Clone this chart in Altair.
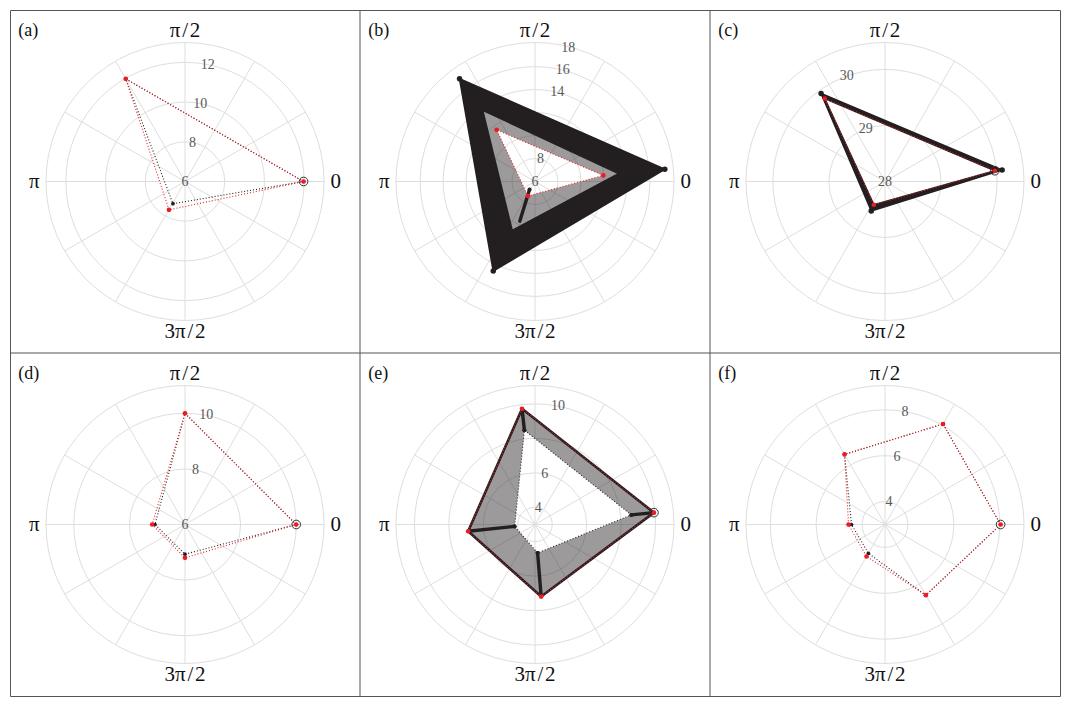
import math
import altair as alt
import pandas as pd

# ---------------- layout / style ----------------
W, H, RPX = 350, 343, 139          # one panel cell (px) and outer-circle radius (px)
NCOL, NROW = 3, 2
LABEL_R = 1.085                    # angular labels, in units of the outer radius
PANEL_LX, PANEL_LY = -1.2, 1.085   # panel letter, in units of the outer radius
GRID = "#dedede"
RED = "#ec1c24"
INK = "#231f20"
TICK = "#595959"
FRAME = "#555555"
SERIF = "Liberation Serif"

# ---------------- data ----------------
PANEL_LABELS = ["(a)", "(b)", "(c)", "(d)", "(e)", "(f)"]
R_CENTER = [6, 6, 28, 6, 3, 3]
R_OUTER = [13.0, 18.1, 30.48, 11.0, 11.07, 9.06]
RINGS = [[8, 10, 12], [8, 10, 12, 14, 16], [29, 30], [8, 10], [4, 6, 8, 10], [4, 6, 8]]
TICKS = [[6, 8, 10, 12], [6, 8, 14, 16, 18], [28, 29, 30], [6, 8, 10], [4, 6, 10], [4, 6, 8]]
TICK_ANGLE = [79, 76, 110, 79, 79, 80]
SPOKE_ANGLES = [0, 30, 60, 90, 120, 150, 180, 210, 240, 270, 300, 330]
DIR_ANGLES = [0, 90, 180, 270]
DIR_TEXT = ["0", "\u03c0\u200a/\u200a2", "\u03c0", "3\u03c0\u200a/\u200a2"]

# (a)
A_RED_R = [11.97, 11.97, 7.64]
A_RED_T = [0, 120, 240.6]
A_BLK_R = [11.97, 11.97, 7.27]
A_BLK_T = [0, 120, 241.4]
# (b)
B_RED_R = [11.97, 11.6, 7.4]
B_RED_T = [5.1, 126.6, 244]
B_MID_R = [13.3, 13.7, 10.7]
B_MID_T = [5.4, 126.3, 245]
B_BLK_R = [17.35, 17.1, 14.6]
B_BLK_T = [5.4, 126.3, 245]
B_TRAIL_R0 = [6.85]
B_TRAIL_T0 = [236]
B_TRAIL_R1 = [9.7]
B_TRAIL_T1 = [249]
# (c)
C_RED_R = [29.97, 29.83, 28.46]
C_RED_T = [5.6, 126, 244.4]
C_BLK_R = [30.1, 29.94, 28.58]
C_BLK_T = [5.6, 126, 245]
# (d)
D_RED_R = [10.0, 10.0, 7.18, 7.2]
D_RED_T = [0, 90, 180, 270]
D_BLK_R = [10.0, 10.0, 7.08, 7.07]
D_BLK_T = [0, 90, 180, 270]
# (e)
E_RED_R = [9.94, 9.76, 6.9, 7.2]
E_RED_T = [5.7, 96.4, 185.8, 274.9]
E_BLK_R = [8.62, 8.51, 4.19, 4.66]
E_BLK_T = [5.7, 96.4, 185.4, 275.2]
# (f)
F_RED_R = [8.04, 8.06, 6.53, 4.59, 4.61, 6.56]
F_RED_T = [0, 60, 120, 180, 240, 300]
F_BLK_R = [8.04, 8.06, 6.53, 4.46, 4.45, 6.56]
F_BLK_T = [0, 60, 120, 180, 240, 300]

PANELS = [
    dict(red=(A_RED_R, A_RED_T), black=(A_BLK_R, A_BLK_T), black_line=True, bands=[],
         trails=None, marker=True, bsize=14, outline=False),
    dict(red=(B_RED_R, B_RED_T), black=(B_BLK_R, B_BLK_T), black_line=False,
         bands=[((B_RED_R, B_RED_T), (B_MID_R, B_MID_T), 0.45),
                ((B_MID_R, B_MID_T), (B_BLK_R, B_BLK_T), 1.0)],
         trails=(B_TRAIL_R0, B_TRAIL_T0, B_TRAIL_R1, B_TRAIL_T1), marker=False, bsize=30,
         outline=False),
    dict(red=(C_RED_R, C_RED_T), black=(C_BLK_R, C_BLK_T), black_line=False,
         bands=[((C_RED_R, C_RED_T), (C_BLK_R, C_BLK_T), 1.0)],
         trails=None, marker=True, bsize=30, outline=False),
    dict(red=(D_RED_R, D_RED_T), black=(D_BLK_R, D_BLK_T), black_line=True, bands=[],
         trails=None, marker=True, bsize=14, outline=False),
    dict(red=(E_RED_R, E_RED_T), black=(E_BLK_R, E_BLK_T), black_line=True,
         bands=[((E_BLK_R, E_BLK_T), (E_RED_R, E_RED_T), 0.45)],
         trails=(E_BLK_R, E_BLK_T, E_RED_R, E_RED_T), marker=True, bsize=14, outline=True),
    dict(red=(F_RED_R, F_RED_T), black=(F_BLK_R, F_BLK_T), black_line=True, bands=[],
         trails=None, marker=True, bsize=14, outline=False),
]

# ---------------- panel geometry (layout only) ----------------
def panel_geo(i):
    col, row = i % NCOL, i // NCOL
    ox = (col + 0.5) * W / RPX
    oy = (NROW - row - 0.5) * H / RPX
    return dict(p=i, r0=R_CENTER[i], span=R_OUTER[i] - R_CENTER[i], ox=ox, oy=oy)


GEO = [panel_geo(i) for i in range(len(PANELS))]

xs = alt.Scale(domain=[0, NCOL * W / RPX], nice=False, zero=False)
ys = alt.Scale(domain=[0, NROW * H / RPX], nice=False, zero=False)
X = alt.X("px:Q", scale=xs, axis=None)
Y = alt.Y("py:Q", scale=ys, axis=None)


def polar(ch, rf="r", tf="t", xn="px", yn="py"):
    return ch.transform_calculate(**{
        xn: f"datum.ox + (datum.{rf} - datum.r0) / datum.span * cos(datum.{tf} * PI / 180)",
        yn: f"datum.oy + (datum.{rf} - datum.r0) / datum.span * sin(datum.{tf} * PI / 180)",
    })


layers = []

# panel dividers
div_rows = []
for c in range(1, NCOL):
    div_rows.append(dict(px=c * W / RPX, py=0, qx=c * W / RPX, qy=NROW * H / RPX))
for r in range(1, NROW):
    div_rows.append(dict(px=0, py=r * H / RPX, qx=NCOL * W / RPX, qy=r * H / RPX))
layers.append(alt.Chart(pd.DataFrame(div_rows)).mark_rule(stroke=FRAME, strokeWidth=1)
              .encode(x=X, y=Y, x2="qx:Q", y2="qy:Q"))

# grid rings: circle symbols whose diameter follows the radial scale
ring_rows = []
for i, g in enumerate(GEO):
    for rv in RINGS[i] + [R_OUTER[i]]:
        ring_rows.append(dict(g, r=rv))
layers.append(
    alt.Chart(pd.DataFrame(ring_rows))
    .transform_calculate(u="(datum.r - datum.r0) / datum.span", px="datum.ox", py="datum.oy")
    .mark_point(shape="circle", filled=False, stroke=GRID, strokeWidth=1, opacity=1)
    .encode(x=X, y=Y,
            size=alt.Size("u:Q", legend=None,
                          scale=alt.Scale(type="pow", exponent=2, domain=[0, 1],
                                          range=[0, (2 * RPX) ** 2], zero=True, nice=False)))
)

# spokes
spoke_rows = [dict(g, a=a) for g in GEO for a in SPOKE_ANGLES]
layers.append(
    alt.Chart(pd.DataFrame(spoke_rows))
    .transform_calculate(px="datum.ox", py="datum.oy",
                         qx="datum.ox + cos(datum.a * PI / 180)",
                         qy="datum.oy + sin(datum.a * PI / 180)")
    .mark_rule(stroke=GRID, strokeWidth=1)
    .encode(x=X, y=Y, x2="qx:Q", y2="qy:Q")
)

# radial tick labels
tick_rows = [dict(g, v=v, t=TICK_ANGLE[i]) for i, g in enumerate(GEO) for v in TICKS[i]]
layers.append(
    polar(alt.Chart(pd.DataFrame(tick_rows)), rf="v")
    .mark_text(font=SERIF, fontSize=14, fill=TICK, baseline="middle", align="center")
    .encode(x=X, y=Y, text="v:N")
)

# angular labels
dir_rows = [dict(g, a=a, s=s) for g in GEO for a, s in zip(DIR_ANGLES, DIR_TEXT)]
layers.append(
    alt.Chart(pd.DataFrame(dir_rows))
    .transform_calculate(px=f"datum.ox + {LABEL_R} * cos(datum.a * PI / 180)",
                         py=f"datum.oy + {LABEL_R} * sin(datum.a * PI / 180)")
    .mark_text(font=SERIF, fontSize=21, fill="#111111", baseline="middle", align="center")
    .encode(x=X, y=Y, text="s:N")
)

# panel letters
lab_rows = [dict(g, s=PANEL_LABELS[i]) for i, g in enumerate(GEO)]
layers.append(
    alt.Chart(pd.DataFrame(lab_rows))
    .transform_calculate(px=f"datum.ox + ({PANEL_LX})", py=f"datum.oy + {PANEL_LY}")
    .mark_text(font=SERIF, fontSize=18, fill="#111111", align="left", baseline="middle")
    .encode(x=X, y=Y, text="s:N")
)


# bands swept by the many overlapping orbits (polygon with a hole)
def ring_xy(rs, ts, g, reverse=False):
    pts = [[g["ox"] + (r - g["r0"]) / g["span"] * math.cos(math.radians(t)),
            g["oy"] + (r - g["r0"]) / g["span"] * math.sin(math.radians(t))]
           for r, t in zip(rs, ts)]
    if reverse:
        pts = pts[::-1]
    return pts + [pts[0]]


solid_feats, soft_feats = [], []
for i, spec in enumerate(PANELS):
    for inner, outer, op in spec["bands"]:
        feat = {"type": "Feature", "properties": {"op": op},
                "geometry": {"type": "Polygon",
                             "coordinates": [ring_xy(outer[0], outer[1], GEO[i]),
                                             ring_xy(inner[0], inner[1], GEO[i], reverse=True)]}}
        (solid_feats if op >= 1 else soft_feats).append(feat)

proj = dict(type="identity", reflectY=True, scale=RPX, translate=[0, NROW * H])
if soft_feats:
    layers.append(alt.Chart(alt.Data(values=soft_feats))
                  .mark_geoshape(fill=INK, stroke=None, strokeWidth=0)
                  .encode(fillOpacity=alt.FillOpacity("properties.op:Q", scale=None, legend=None))
                  .project(**proj))
if solid_feats:
    layers.append(alt.Chart(alt.Data(values=solid_feats))
                  .mark_geoshape(fill=INK, stroke=INK, strokeWidth=1.6, strokeJoin="round")
                  .project(**proj))

# vertex trails
trail_rows = []
for i, spec in enumerate(PANELS):
    if spec["trails"] is not None:
        rA, tA, rB, tB = spec["trails"]
        for a1, b1, a2, b2 in zip(rA, tA, rB, tB):
            trail_rows.append(dict(GEO[i], ra=a1, ta=b1, rb=a2, tb=b2))
trail = polar(polar(alt.Chart(pd.DataFrame(trail_rows)), rf="ra", tf="ta"),
              rf="rb", tf="tb", xn="qx", yn="qy")
layers.append(trail.mark_rule(stroke=INK, strokeWidth=3.4, strokeCap="round")
              .encode(x=X, y=Y, x2="qx:Q", y2="qy:Q"))
layers.append(trail.mark_point(filled=True, size=16, color=INK, opacity=1).encode(x=X, y=Y))

# polygons (closed by repeating the first vertex)
poly_rows = []
for i, spec in enumerate(PANELS):
    for series, (rs, ts) in [("black", spec["black"]), ("red", spec["red"])]:
        n = len(rs)
        for k in range(n + 1):
            poly_rows.append(dict(GEO[i], s=series, k=k, r=rs[k % n], t=ts[k % n],
                                  bl=spec["black_line"], ol=spec["outline"],
                                  mk=spec["marker"], bsize=spec["bsize"]))
base = polar(alt.Chart(pd.DataFrame(poly_rows)))

layers.append(base.transform_filter("datum.s == 'red' && datum.ol")
              .mark_line(color=INK, strokeWidth=2.6, strokeJoin="round")
              .encode(x=X, y=Y, order="k:Q", detail="p:N"))
layers.append(base.transform_filter("datum.s == 'black' && datum.bl")
              .mark_line(color=INK, strokeWidth=1.1, strokeDash=[1, 2])
              .encode(x=X, y=Y, order="k:Q", detail="p:N"))
layers.append(base.transform_filter("datum.s == 'red'")
              .mark_line(color=RED, strokeWidth=1.1, strokeDash=[1, 2])
              .encode(x=X, y=Y, order="k:Q", detail="p:N"))
layers.append(base.transform_filter("datum.s == 'black' && datum.k > 0")
              .mark_point(filled=True, color=INK, opacity=1)
              .encode(x=X, y=Y, size=alt.Size("bsize:Q", scale=None, legend=None)))
layers.append(base.transform_filter("datum.s == 'red' && datum.k > 0")
              .mark_point(filled=True, size=22, color=RED, opacity=1)
              .encode(x=X, y=Y))
layers.append(base.transform_filter("datum.s == 'red' && datum.k == 0 && datum.mk")
              .mark_point(filled=False, size=75, color="#333333", strokeWidth=1, opacity=1)
              .encode(x=X, y=Y))

chart = (
    alt.layer(*layers)
    .properties(width=NCOL * W, height=NROW * H,
                padding={"left": 1, "top": 1, "right": 1, "bottom": 1})
    .resolve_scale(size="independent")
    .configure_view(stroke=FRAME, strokeWidth=1)
)
chart.save("out.html", embed_options={"renderer": "svg", "actions": False})
